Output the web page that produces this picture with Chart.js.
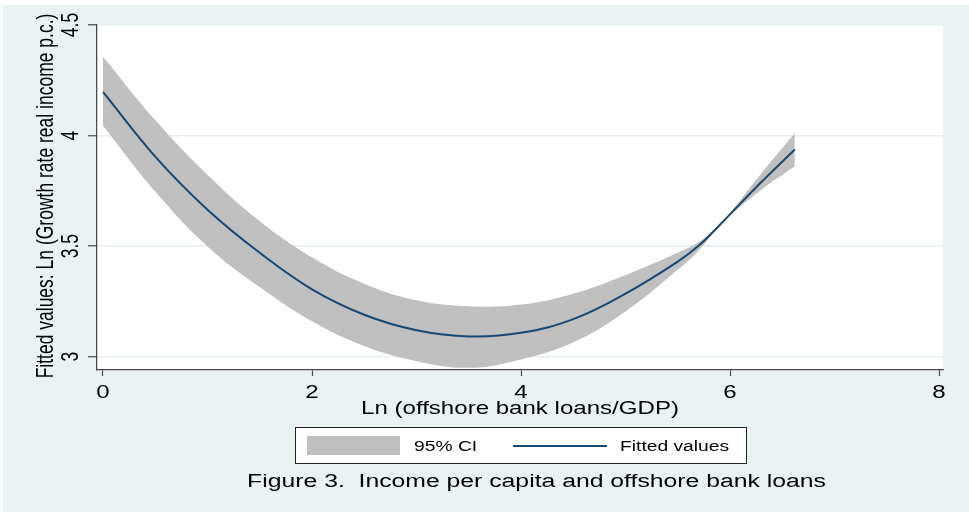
<!DOCTYPE html>
<html>
<head>
<meta charset="utf-8">
<script src="https://cdn.jsdelivr.net/npm/chart.js@4/dist/chart.umd.min.js"></script>
<style>
  html, body { margin: 0; padding: 0; background: #ffffff; }
  #wrap { position: relative; width: 969px; height: 512px; }
  canvas { display: block; }
</style>
</head>
<body>
<div id="wrap"><canvas id="c" width="969" height="512"></canvas></div>
<script>
// Quadratic fit of growth on ln(offshore bank loans/GDP), with its 95% band
const xVals   = [0, 0.5, 1, 1.5, 2, 2.5, 3, 3.5, 4, 4.5, 5, 5.5, 5.71, 5.92, 6.3, 6.62];
const fitted  = [4.198, 3.905, 3.665, 3.470, 3.305, 3.190, 3.120, 3.092, 3.108, 3.170, 3.285, 3.430, 3.506, 3.605, 3.790, 3.937];
const ciUpper = [4.358, 4.070, 3.823, 3.613, 3.450, 3.330, 3.255, 3.228, 3.236, 3.285, 3.370, 3.470, 3.522, 3.608, 3.830, 4.012];
const ciLower = [4.045, 3.747, 3.499, 3.315, 3.160, 3.048, 2.980, 2.950, 2.988, 3.065, 3.205, 3.393, 3.485, 3.602, 3.755, 3.861];

const xTicks = [0, 2, 4, 6, 8];
const yTicks = [3, 3.5, 4, 4.5];
const xTickLabels = ['0', '2', '4', '6', '8'];
const yTickLabels = ['3', '3.5', '4', '4.5'];

const xTitle = 'Ln (offshore bank loans/GDP)';
const yTitle = 'Fitted values: Ln (Growth rate real income p.c.)';
const legendLabels = ['95% CI', 'Fitted values'];
const caption = 'Figure 3.  Income per capita and offshore bank loans';

const BG = '#eaf2f3';
const BAND = '#c0c0c0';
const LINE = '#1a476f';
const AXIS = '#4a4a4a';
const GRID = '#e4edf0';
const FONT = '"Liberation Sans", Arial, Helvetica, sans-serif';
const SX = 1.375; // horizontal text stretch of the figure

const pts = ys => xVals.map((x, i) => ({ x: x, y: ys[i] }));

function drawText(ctx, text, x, y, size, align, vertical) {
  ctx.save();
  ctx.translate(x, y);
  if (vertical) {
    ctx.rotate(-Math.PI / 2);
    ctx.scale(1, SX);
  } else {
    ctx.scale(SX, 1);
  }
  ctx.font = size + 'px ' + FONT;
  ctx.fillStyle = '#000';
  ctx.textAlign = align;
  ctx.textBaseline = 'alphabetic';
  ctx.fillText(text, 0, 0);
  ctx.restore();
}

const frame = {
  id: 'frame',
  beforeDraw(chart) {
    const ctx = chart.ctx;
    const a = chart.chartArea;
    ctx.save();
    ctx.fillStyle = '#ffffff';
    ctx.fillRect(0, 0, chart.width, chart.height);
    ctx.fillStyle = BG;
    ctx.fillRect(3, 5, chart.width - 3, chart.height - 5);
    ctx.fillStyle = '#ffffff';
    ctx.fillRect(a.left, a.top - 1, a.right - a.left, a.bottom - a.top + 1);
    ctx.restore();
  },
  afterDraw(chart) {
    const ctx = chart.ctx;
    const xs = chart.scales.x;
    const ys = chart.scales.y;
    const a = chart.chartArea;

    // tick labels
    xTicks.forEach((v, i) => drawText(ctx, xTickLabels[i], xs.getPixelForValue(v), 398, 17.5, 'center', false));
    yTicks.forEach((v, i) => drawText(ctx, yTickLabels[i], 78, ys.getPixelForValue(v), 17.5, 'center', true));

    // axis titles
    drawText(ctx, xTitle, (a.left + a.right) / 2, 414, 17.5, 'center', false);
    drawText(ctx, yTitle, 53, 196, 17.5, 'center', true);

    // legend
    ctx.save();
    ctx.fillStyle = '#ffffff';
    ctx.fillRect(295, 427, 451, 36);
    ctx.strokeStyle = '#222';
    ctx.lineWidth = 1;
    ctx.strokeRect(295.5, 427.5, 451, 36);
    ctx.fillStyle = BAND;
    ctx.fillRect(307, 436, 93, 19);
    ctx.strokeStyle = LINE;
    ctx.lineWidth = 2;
    ctx.beginPath();
    ctx.moveTo(513, 446);
    ctx.lineTo(607, 446);
    ctx.stroke();
    ctx.restore();
    drawText(ctx, legendLabels[0], 414, 451, 14, 'left', false);
    drawText(ctx, legendLabels[1], 620, 451, 14, 'left', false);

    // caption
    drawText(ctx, caption, 536.5, 487, 18, 'center', false);
  }
};

const smooth = { tension: 0.4, cubicInterpolationMode: 'default' };

new Chart(document.getElementById('c'), {
  type: 'line',
  data: {
    datasets: [
      Object.assign({
        label: legendLabels[0] + ' upper',
        data: pts(ciUpper),
        order: 2,
        borderWidth: 0,
        borderColor: 'rgba(0,0,0,0)',
        pointRadius: 0,
        backgroundColor: BAND,
        fill: '+1'
      }, smooth),
      Object.assign({
        label: legendLabels[0] + ' lower',
        data: pts(ciLower),
        order: 1,
        borderWidth: 0,
        borderColor: 'rgba(0,0,0,0)',
        pointRadius: 0,
        fill: false
      }, smooth),
      Object.assign({
        label: legendLabels[1],
        data: pts(fitted),
        order: 0,
        borderColor: LINE,
        borderWidth: 2,
        pointRadius: 0,
        fill: false
      }, smooth)
    ]
  },
  options: {
    responsive: false,
    devicePixelRatio: 1,
    animation: false,
    layout: { padding: { top: 25, right: 26, left: 0, bottom: 0 } },
    plugins: { legend: { display: false }, tooltip: { enabled: false }, title: { display: false } },
    scales: {
      x: {
        type: 'linear',
        min: -0.0574,
        max: 8.038,
        afterBuildTicks: s => { s.ticks = xTicks.map(v => ({ value: v })); },
        afterFit: s => { s.height = 142; },
        ticks: { display: false },
        grid: { drawOnChartArea: false, drawTicks: true, tickLength: 6, tickColor: AXIS, tickWidth: 1.2 },
        border: { display: true, color: AXIS, width: 1.3 }
      },
      y: {
        type: 'linear',
        min: 2.94,
        max: 4.5,
        afterBuildTicks: s => { s.ticks = yTicks.map(v => ({ value: v })); },
        afterFit: s => { s.width = 97; },
        ticks: { display: false },
        grid: { color: GRID, lineWidth: 1.5, drawTicks: true, tickLength: 9, tickColor: AXIS, tickWidth: 1.2 },
        border: { display: true, color: AXIS, width: 1.3 }
      }
    }
  },
  plugins: [frame]
});
</script>
</body>
</html>
